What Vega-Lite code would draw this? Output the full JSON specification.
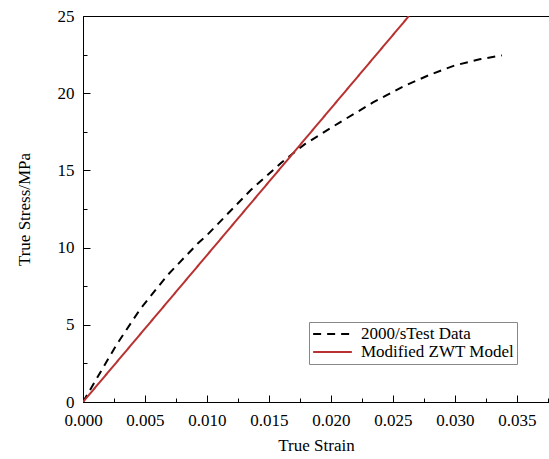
{
  "$schema": "https://vega.github.io/schema/vega-lite/v6.json",
  "width": 466,
  "height": 386,
  "autosize": {"type": "none"},
  "padding": {"left": 83, "top": 16, "right": 0, "bottom": 57},
  "background": "white",
  "config": {
    "view": {"stroke": "black", "strokeWidth": 1},
    "font": "Liberation Serif",
    "axis": {
      "grid": false,
      "domainColor": "black",
      "tickColor": "black",
      "labelColor": "black",
      "titleColor": "black",
      "labelFont": "Liberation Serif",
      "titleFont": "Liberation Serif",
      "labelFontSize": 17,
      "titleFontSize": 17,
      "titleFontWeight": "normal",
      "labelFlush": false,
      "labelOverlap": false
    }
  },
  "datasets": {
    "curves": [
      {"series": "2000/sTest Data", "strain": 0.0, "stress": 0.0},
      {"series": "2000/sTest Data", "strain": 0.0008, "stress": 1.1},
      {"series": "2000/sTest Data", "strain": 0.0027, "stress": 3.7},
      {"series": "2000/sTest Data", "strain": 0.0046, "stress": 6.0},
      {"series": "2000/sTest Data", "strain": 0.0068, "stress": 8.2},
      {"series": "2000/sTest Data", "strain": 0.0093, "stress": 10.3},
      {"series": "2000/sTest Data", "strain": 0.0100, "stress": 10.8},
      {"series": "2000/sTest Data", "strain": 0.0135, "stress": 13.7},
      {"series": "2000/sTest Data", "strain": 0.0160, "stress": 15.5},
      {"series": "2000/sTest Data", "strain": 0.0179, "stress": 16.7},
      {"series": "2000/sTest Data", "strain": 0.0207, "stress": 18.1},
      {"series": "2000/sTest Data", "strain": 0.0234, "stress": 19.4},
      {"series": "2000/sTest Data", "strain": 0.0260, "stress": 20.5},
      {"series": "2000/sTest Data", "strain": 0.0280, "stress": 21.2},
      {"series": "2000/sTest Data", "strain": 0.0300, "stress": 21.8},
      {"series": "2000/sTest Data", "strain": 0.0320, "stress": 22.2},
      {"series": "2000/sTest Data", "strain": 0.0338, "stress": 22.45},
      {"series": "Modified ZWT Model", "strain": 0.0, "stress": 0.0},
      {"series": "Modified ZWT Model", "strain": 0.0263, "stress": 25.0}
    ]
  },
  "data": {"name": "curves"},
  "layer": [
    {
      "mark": {"type": "line", "strokeWidth": 2, "clip": true},
      "encoding": {
        "x": {
          "field": "strain", "type": "quantitative",
          "scale": {"domain": [0, 0.0376], "nice": false, "zero": false},
          "axis": {"orient": "bottom", "values": [0, 0.005, 0.01, 0.015, 0.02, 0.025, 0.03, 0.035], "format": ".3f", "tickSize": -7, "labelPadding": 17, "title": "True Strain", "titlePadding": 9}
        },
        "y": {
          "field": "stress", "type": "quantitative",
          "scale": {"domain": [0, 25], "nice": false},
          "axis": {"orient": "left", "values": [0, 5, 10, 15, 20, 25], "format": "d", "tickSize": -7, "labelPadding": 16, "title": "True Stress/MPa", "titlePadding": 24}
        },
        "color": {
          "field": "series", "type": "nominal",
          "scale": {"domain": ["2000/sTest Data", "Modified ZWT Model"], "range": ["black", "#b83232"]},
          "legend": {
            "title": null, "orient": "none", "legendX": 226, "legendY": 306,
            "symbolType": "stroke", "symbolSize": 1500, "symbolStrokeWidth": 2, "clipHeight": 18,
            "labelFontSize": 17, "labelFont": "Liberation Serif", "labelColor": "black", "labelOffset": 8,
            "strokeColor": "#888", "padding": 3, "rowPadding": 0, "fillColor": "white"
          }
        },
        "strokeDash": {
          "field": "series", "type": "nominal",
          "scale": {"domain": ["2000/sTest Data", "Modified ZWT Model"], "range": [[8, 6], [1, 0]]},
          "legend": {
            "title": null, "orient": "none", "legendX": 226, "legendY": 306,
            "symbolType": "stroke", "symbolSize": 1500, "symbolStrokeWidth": 2, "clipHeight": 18,
            "labelFontSize": 17, "labelFont": "Liberation Serif", "labelColor": "black", "labelOffset": 8,
            "strokeColor": "#888", "padding": 3, "rowPadding": 0, "fillColor": "white"
          }
        }
      }
    },
    {
      "mark": {"type": "line", "opacity": 0},
      "encoding": {
        "x": {
          "field": "strain", "type": "quantitative",
          "scale": {"domain": [0, 0.0376], "nice": false, "zero": false},
          "axis": {"orient": "bottom", "values": [0.0025, 0.0075, 0.0125, 0.0175, 0.0225, 0.0275, 0.0325, 0.0375], "labels": false, "domain": false, "tickSize": -4, "title": null}
        },
        "y": {
          "field": "stress", "type": "quantitative",
          "scale": {"domain": [0, 25], "nice": false},
          "axis": {"orient": "left", "values": [2.5, 7.5, 12.5, 17.5, 22.5], "labels": false, "domain": false, "tickSize": -4, "title": null}
        },
        "detail": {"field": "series", "type": "nominal"}
      }
    }
  ],
  "resolve": {"axis": {"x": "independent", "y": "independent"}}
}
